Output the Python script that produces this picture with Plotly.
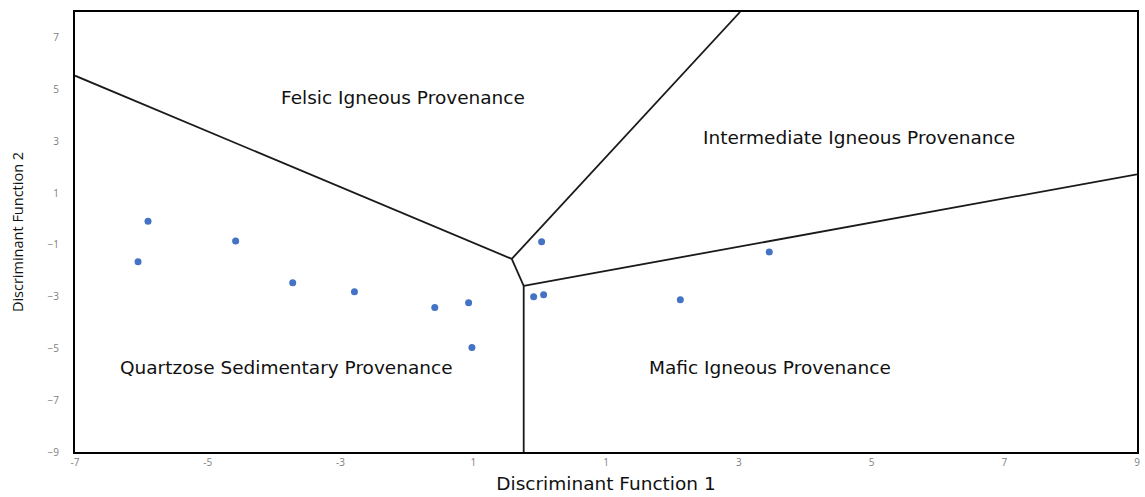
import plotly.graph_objects as go

# Sample points (Discriminant Function 1, Discriminant Function 2)
df1 = [-5.90, -6.05, -4.58, -3.72, -2.79, -1.58, -1.07, -1.02, 0.03, -0.09, 0.06, 2.12, 3.46]
df2 = [-0.08, -1.65, -0.85, -2.46, -2.81, -3.42, -3.23, -4.96, -0.88, -3.00, -2.92, -3.12, -1.27]

# Field boundary segments
boundaries = [
    ([-7.0, -0.42], [5.54, -1.54]),
    ([-0.42, 3.02], [-1.54, 8.0]),
    ([-0.42, -0.24], [-1.54, -2.58]),
    ([-0.24, -0.24], [-2.58, -9.0]),
    ([-0.24, 9.0], [-2.58, 1.73]),
]

# Field labels
field_names = ["Felsic Igneous Provenance", "Intermediate Igneous Provenance",
               "Quartzose Sedimentary Provenance", "Mafic Igneous Provenance"]
field_x = [-2.06, 4.81, -3.81, 3.47]
field_y = [4.69, 3.15, -5.73, -5.73]

x_tickvals = [-7, -5, -3, -1, 1, 3, 5, 7, 9]
x_ticktext = ["-7", "-5", "-3", "1", "1", "3", "5", "7", "9"]
y_tickvals = [7, 5, 3, 1, -1, -3, -5, -7, -9]

fig = go.Figure()
for bx, by in boundaries:
    fig.add_trace(go.Scatter(x=bx, y=by, mode="lines",
                             line=dict(color="#1a1a1a", width=1.8),
                             hoverinfo="skip", showlegend=False))

fig.add_trace(go.Scatter(x=df1, y=df2, mode="markers",
                         marker=dict(color="#4472C4", size=7),
                         showlegend=False))

for name, fx, fy in zip(field_names, field_x, field_y):
    fig.add_annotation(x=fx, y=fy, text=name, showarrow=False,
                       font=dict(family="DejaVu Sans", size=18.5, color="#111111"))

fig.update_layout(
    width=1145, height=497,
    margin=dict(l=75, r=5, t=12, b=45),
    paper_bgcolor="white", plot_bgcolor="white",
    font=dict(family="Open Sans"),
    xaxis=dict(range=[-7, 9], tickvals=x_tickvals, ticktext=x_ticktext,
               showgrid=False, zeroline=False, showline=True, mirror=True,
               linecolor="black", linewidth=2, ticks="",
               tickfont=dict(size=10, color="#808080"),
               title=dict(text="Discriminant Function 1", standoff=9,
                          font=dict(family="DejaVu Sans", size=18.5, color="#111111"))),
    yaxis=dict(range=[-9, 8], tickvals=y_tickvals,
               showgrid=False, zeroline=False, showline=True, mirror=True,
               linecolor="black", linewidth=2, ticks="",
               ticklabelstandoff=12,
               tickfont=dict(size=10, color="#808080"),
               title=dict(text="Discriminant Function 2", standoff=20,
                          font=dict(size=14.5, color="#111111"))),
)

fig.write_html("out.html")
